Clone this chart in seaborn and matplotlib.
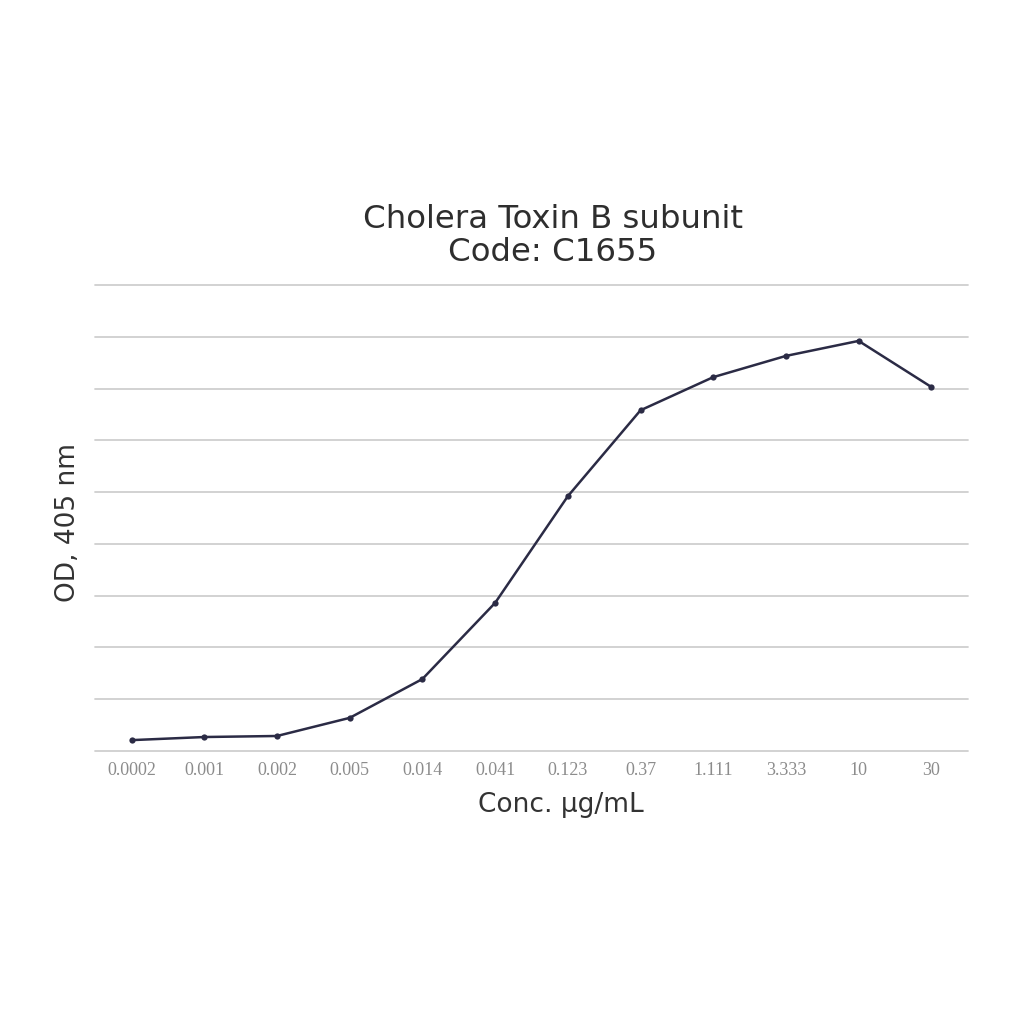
import matplotlib
matplotlib.use("Agg")
import matplotlib.pyplot as plt
import seaborn as sns
import pandas as pd

# concentration steps (ug/mL) and optical density
conc_labels = ["0.0002", "0.001", "0.002", "0.005", "0.014", "0.041",
               "0.123", "0.37", "1.111", "3.333", "10", "30"]
od_values = [0.21, 0.27, 0.29, 0.64, 1.39, 2.86, 4.92, 6.58, 7.22, 7.63, 7.92, 7.03]
grid_levels = list(range(0, 10))

df = pd.DataFrame({"pos": range(len(conc_labels)), "od": od_values})

sns.set_theme(style="white")
plt.rcParams["font.family"] = ["DejaVu Sans"]

fig = plt.figure(figsize=(10.24, 10.24), dpi=100)
ax = fig.add_axes([0.093, 0.2666, 0.852, 0.4551])

for lvl in grid_levels:
    ax.axhline(lvl, color="#cfcfcf", lw=1.3, zorder=0, clip_on=False)

sns.lineplot(data=df, x="pos", y="od", ax=ax, color="#2b2b45", lw=1.8,
             marker="o", markersize=4.5, markeredgewidth=0)

ax.set_xlim(-0.5, len(conc_labels) - 0.5)
ax.set_ylim(0, 9)
ax.set_yticks([])
ax.set_xticks(range(len(conc_labels)))
ax.set_xticklabels(conc_labels, family="Liberation Serif", fontsize=13, color="#8c8c8c")
ax.tick_params(axis="x", length=0, pad=8)
for s in ax.spines.values():
    s.set_visible(False)

ax.set_xlabel("")
ax.set_ylabel("")
fig.text(561 / 1024, 1 - 805 / 1024, "Conc. \u00b5g/mL", ha="center", va="center",
         fontsize=19, color="#333333")
fig.text(68 / 1024, 1 - 522 / 1024, "OD, 405 nm", ha="center", va="center",
         rotation=90, fontsize=19, color="#333333")
fig.text(553 / 1024, 1 - 236 / 1024, "Cholera Toxin B subunit\nCode: C1655", ha="center", va="center",
         fontsize=23.3, color="#2e2e2e", linespacing=1.1)

fig.savefig("out.png", dpi=100, facecolor="white")
